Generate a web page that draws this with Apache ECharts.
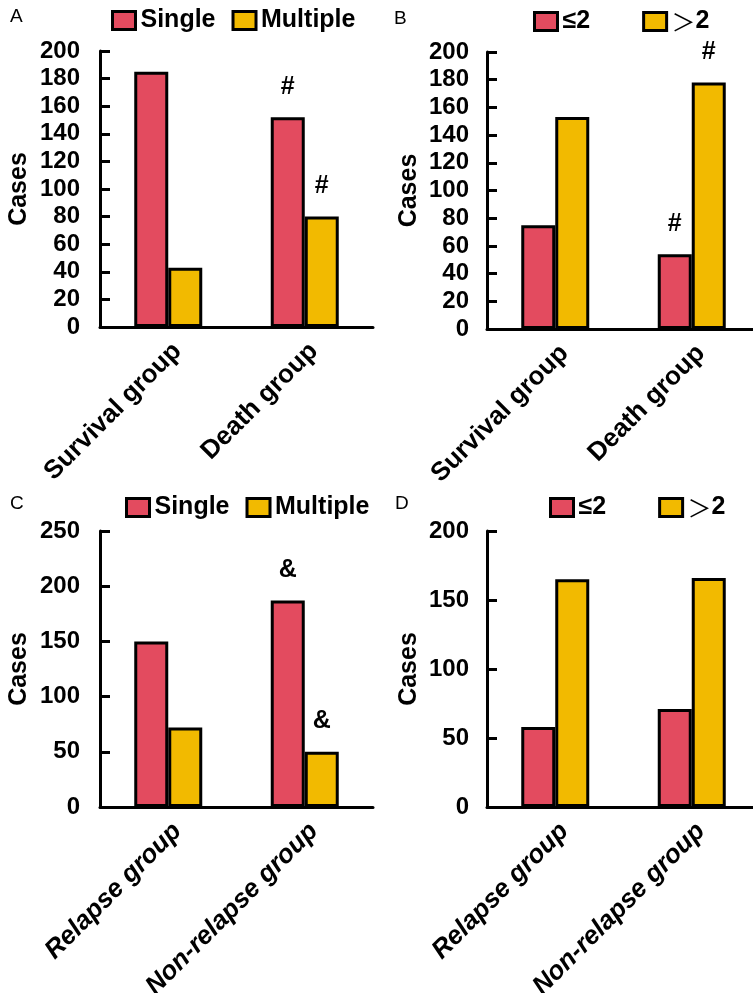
<!DOCTYPE html>
<html>
<head>
<meta charset="utf-8">
<script src="https://cdn.jsdelivr.net/npm/echarts@6/dist/echarts.min.js"></script>
<style>
html,body{margin:0;padding:0;background:#fff;}
#chart{width:753px;height:993px;}
</style>
</head>
<body>
<div id="chart"></div>
<script>
// ---- data ----
var categoriesAB = ['Survival group', 'Death group'];
var categoriesCD = ['Relapse group', 'Non-relapse group'];
var seriesNamesSM = ['Single', 'Multiple'];
var seriesNamesLG = ['≤2', '＞2'];
var aSingle = [185, 152];
var aMultiple = [43, 80];
var bLe2 = [75, 54];
var bGt2 = [153, 178];
var cSingle = [150, 187];
var cMultiple = [72, 50];
var dLe2 = [58, 71];
var dGt2 = [165, 166];
var aSingleMarks = ['', '#'];
var aMultipleMarks = ['', '#'];
var bLe2Marks = ['', '#'];
var bGt2Marks = ['', '#'];
var cSingleMarks = ['', '&'];
var cMultipleMarks = ['', '&'];
var dLe2Marks = ['', ''];
var dGt2Marks = ['', ''];
var yMaxA = 200, yStepA = 20;
var yMaxB = 200, yStepB = 20;
var yMaxC = 250, yStepC = 50;
var yMaxD = 200, yStepD = 50;
var panelLetters = ['A', 'B', 'C', 'D'];

// ---- styles ----
var FONT = "Arial, 'Liberation Sans', sans-serif";
var RED = '#E34B5F';
var YEL = '#F2BA00';

var chart = echarts.init(document.getElementById('chart'), null, {renderer: 'canvas'});

var grids = [
  {left: 100, right: 380, top: 51, bottom: 666, outerBoundsMode: 'none', containLabel: false},
  {left: 487, right: -7, top: 52, bottom: 664, outerBoundsMode: 'none', containLabel: false},
  {left: 100, right: 380, top: 531, bottom: 186, outerBoundsMode: 'none', containLabel: false},
  {left: 487, right: -7, top: 531, bottom: 186, outerBoundsMode: 'none', containLabel: false}
];

function xAxis(idx, cats, italic) {
  return {
    type: 'category', gridIndex: idx, data: cats,
    axisLine: {lineStyle: {color: '#000', width: 3}},
    axisTick: {inside: true, length: 8, lineStyle: {color: '#000', width: 3}},
    axisLabel: {
      interval: 0, rotate: 45, margin: 11, verticalAlign: 'top',
      color: '#000', fontFamily: FONT, fontWeight: 'bold', fontSize: 26,
      fontStyle: italic ? 'italic' : 'normal'
    }
  };
}
function yAxis(idx, max, step, gap, margin) {
  return {
    type: 'value', gridIndex: idx, min: 0, max: max, interval: step,
    name: 'Cases', nameLocation: 'middle', nameGap: gap,
    nameTextStyle: {color: '#000', fontFamily: FONT, fontWeight: 'bold', fontSize: 25},
    axisLine: {show: true, lineStyle: {color: '#000', width: 3}},
    axisTick: {show: true, inside: true, length: 10, lineStyle: {color: '#000', width: 3}},
    axisLabel: {margin: margin, color: '#000', fontFamily: FONT, fontWeight: 'bold', fontSize: 24},
    splitLine: {show: false}
  };
}
function barSeries(name, idx, values, marks, color) {
  return {
    type: 'bar', name: name, xAxisIndex: idx, yAxisIndex: idx,
    barWidth: 34, barGap: '0%',
    itemStyle: {color: color, borderColor: '#000', borderWidth: 3},
    data: values.map(function (v, i) {
      return {
        value: v,
        label: {
          show: !!marks[i], position: 'top', distance: 18, formatter: marks[i],
          color: '#000', fontFamily: FONT, fontWeight: 'bold', fontSize: 25
        }
      };
    })
  };
}
function legend(names, left, top, gap) {
  return {
    data: names, left: left, top: top, itemGap: gap, padding: 0,
    itemWidth: 23, itemHeight: 18, icon: 'rect',
    itemStyle: {borderColor: '#000', borderWidth: 3},
    textStyle: {
      color: '#000', fontFamily: FONT, fontWeight: 'bold', fontSize: 25,
      rich: {
        n: {fontFamily: "'Noto Sans CJK SC'", fontWeight: 'normal', fontSize: 24, color: '#000'},
        b: {fontFamily: FONT, fontWeight: 'bold', fontSize: 25, color: '#000'}
      }
    },
    formatter: function (name) {
      if (name.charAt(0) === '＞') return '{n|＞}{b|' + name.slice(1) + '}';
      return name;
    },
    selectedMode: false
  };
}
function letter(txt, x, y) {
  return {type: 'text', left: x, top: y,
    style: {text: txt, fill: '#000', font: 'normal 19px ' + FONT}};
}

var option = {
  backgroundColor: '#fff',
  animation: false,
  grid: grids,
  xAxis: [xAxis(0, categoriesAB, false), xAxis(1, categoriesAB, false),
          xAxis(2, categoriesCD, true), xAxis(3, categoriesCD, true)],
  yAxis: [yAxis(0, yMaxA, yStepA, 68, 20), yAxis(1, yMaxB, yStepB, 65, 18),
          yAxis(2, yMaxC, yStepC, 68, 20), yAxis(3, yMaxD, yStepD, 65, 18)],
  legend: [
    legend(seriesNamesSM, 111, 8, 16),
    legend(seriesNamesLG, 533, 9, 52),
    legend(seriesNamesSM, 125, 495, 16),
    legend(seriesNamesLG, 549, 495, 52)
  ],
  series: [
    barSeries(seriesNamesSM[0], 0, aSingle, aSingleMarks, RED),
    barSeries(seriesNamesSM[1], 0, aMultiple, aMultipleMarks, YEL),
    barSeries(seriesNamesLG[0], 1, bLe2, bLe2Marks, RED),
    barSeries(seriesNamesLG[1], 1, bGt2, bGt2Marks, YEL),
    barSeries(seriesNamesSM[0], 2, cSingle, cSingleMarks, RED),
    barSeries(seriesNamesSM[1], 2, cMultiple, cMultipleMarks, YEL),
    barSeries(seriesNamesLG[0], 3, dLe2, dLe2Marks, RED),
    barSeries(seriesNamesLG[1], 3, dGt2, dGt2Marks, YEL)
  ],
  graphic: [
    letter(panelLetters[0], 10, 7),
    letter(panelLetters[1], 394, 9),
    letter(panelLetters[2], 10, 494),
    letter(panelLetters[3], 395, 494)
  ]
};
chart.setOption(option);
</script>
</body>
</html>
